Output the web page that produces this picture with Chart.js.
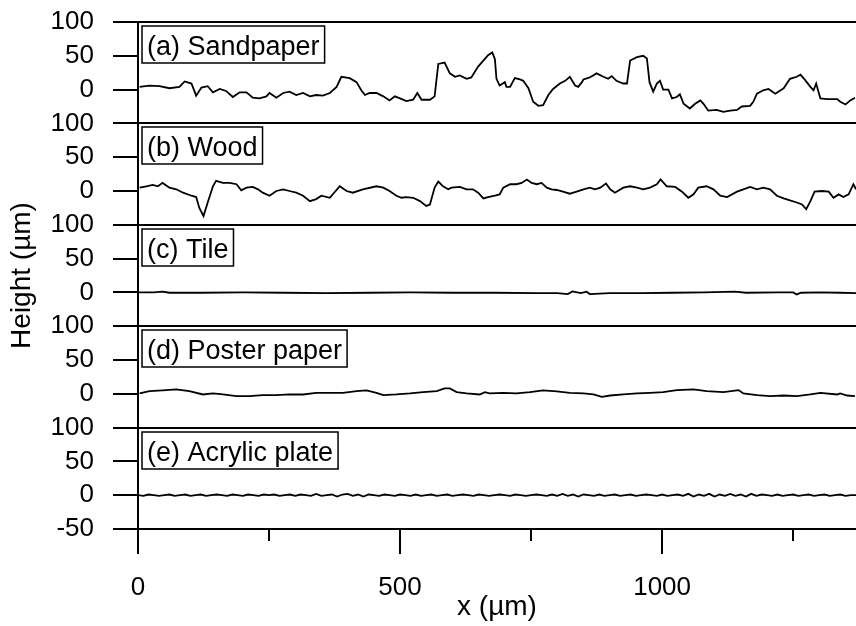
<!DOCTYPE html>
<html>
<head>
<meta charset="utf-8">
<script src="https://cdn.jsdelivr.net/npm/chart.js@4"></script>
<style>
  html, body { margin: 0; padding: 0; background: #fff; }
</style>
</head>
<body>
<canvas id="profileChart" width="856" height="626"></canvas>
<script>
// Surface height profiles (x and height in µm)
const sandX = [3, 22, 41, 60, 79, 89, 102, 111, 121, 133, 143, 156, 168, 181, 194, 207, 219, 232, 245, 251,
  264, 277, 289, 302, 315, 328, 340, 353, 366, 379, 388, 404, 417, 426, 433, 442, 455, 468, 480, 490,
  500, 512, 525, 533, 541, 557, 566, 573, 585, 595, 605, 614, 627, 636, 649, 668, 676, 681, 684, 690,
  700, 703, 710, 719, 729, 735, 745, 754, 764, 773, 783, 792, 805, 815, 824, 834, 840, 847, 850, 862,
  875, 888, 897, 904, 913, 926, 933, 939, 952, 964, 971, 976, 983, 990, 996, 1002, 1012, 1019, 1028, 1034,
  1041, 1053, 1063, 1073, 1079, 1088, 1104, 1117, 1130, 1143, 1152, 1168, 1174, 1181, 1193, 1203, 1216, 1232, 1244, 1257,
  1264, 1273, 1283, 1289, 1294, 1302, 1315, 1334, 1340, 1350, 1359, 1368];
const sandH = [4, 6, 5, 2, 4, 12, 9, -9, 3, 5, -4, 1, -2, -11, -4, -4, -12, -13, -10, -5,
  -12, -5, -3, -8, -5, -10, -8, -9, -5, 4, 19, 17, 11, -1, -8, -5, -5, -10, -16, -10,
  -13, -17, -15, -5, -15, -15, -10, 38, 40, 24, 19, 21, 16, 18, 34, 51, 55, 45, 16, 6,
  11, 4, 4, 17, 15, 13, 2, -18, -24, -23, -8, 1, 9, 13, 19, 6, 4, 11, 15, 18,
  24, 19, 16, 20, 13, 9, 9, 43, 48, 50, 46, 11, -3, 9, 13, 0, 0, -13, -11, -7,
  -21, -28, -21, -16, -21, -31, -30, -33, -31, -30, -25, -24, -18, -6, -1, 1, -6, 2, 16, 19,
  22, 14, 4, -1, 9, -13, -14, -14, -18, -22, -16, -12];

const woodX = [3, 16, 28, 38, 47, 60, 73, 86, 102, 111, 117, 125, 133, 143, 149, 162, 175, 188, 197, 207,
  219, 229, 238, 251, 264, 277, 289, 302, 315, 328, 340, 350, 366, 385, 398, 410, 429, 455, 468, 480,
  493, 503, 512, 525, 538, 550, 557, 566, 573, 582, 592, 598, 614, 627, 639, 649, 659, 668, 681, 690,
  697, 710, 722, 732, 742, 751, 761, 770, 780, 789, 799, 811, 824, 837, 850, 862, 872, 882, 893, 901,
  910, 926, 939, 952, 964, 977, 990, 997, 1009, 1025, 1038, 1050, 1060, 1069, 1085, 1098, 1111, 1124, 1143, 1155,
  1168, 1181, 1193, 1206, 1219, 1232, 1244, 1257, 1267, 1275, 1283, 1291, 1305, 1318, 1327, 1337, 1346, 1356, 1365, 1370];
const woodH = [5, 7, 9, 7, 12, 5, 2.5, -2.5, -7, -9, -25, -37, -17, 7, 15, 12, 12, 10, 1, 5,
  6, 2.5, -2.5, -7, 0, 2.5, 0, -2.5, -7, -15, -12, -7, -10, 7, 0, -2.5, 2.5, 7, 5, 0,
  -7, -10, -9, -10, -15, -22, -20, 5, 14, 7, 2.5, 5, 6, 2.5, 2.5, -2.5, -11, -9, -7, -5,
  5, 10, 10, 12, 17, 12, 10, 12, 5, 2.5, 1.5, -1, -4, -1, 2.5, 5, 2.5, 5, 11, 2.5,
  -2.5, 5, 7, 5, 2.5, 5, 10, 17, 7, 6, -1, -10, -5, 5, 7, 2.5, -7, -9, -1, 2.5,
  6, 2.5, 5, 2.5, -7, -11, -14, -17, -20, -27, -15, -1, 0, -1, -10, -5, -9, -5, 10, 2.5];

const tileX = [0, 30, 47, 60, 120, 200, 280, 360, 440, 520, 600, 680, 760, 800, 820, 829, 845, 856, 862, 900,
  960, 1020, 1080, 1139, 1160, 1220, 1250, 1257, 1265, 1300, 1340, 1370];
const tileH = [0, 0, 1, -0.5, -0.5, 0, -0.5, -1, -0.5, 0, -0.5, -0.5, -1, -1, -2.5, 1.5, -1, 1, -2.5, -1,
  -1, -0.5, 0, 1, -0.5, 0, 0, -3, -0.5, 0, -0.5, -1];

const posterX = [3, 22, 47, 73, 98, 124, 143, 162, 188, 213, 238, 264, 289, 315, 340, 366, 391, 417, 436, 455,
  468, 493, 519, 544, 570, 585, 595, 608, 627, 652, 662, 671, 697, 722, 748, 773, 799, 824, 850, 869,
  885, 901, 926, 952, 977, 1002, 1028, 1060, 1085, 1117, 1146, 1155, 1181, 1206, 1232, 1257, 1283, 1302, 1334, 1340,
  1353, 1368];
const posterH = [0.5, 4, 5, 6.4, 4, -1, 0.5, -1, -3.5, -3.5, -2, -2, -1, -1, 1.5, 1.5, 1.5, 4, 5, 1.5,
  -2, -1, 0.5, 2.5, 4, 8, 8, 2.5, 0.5, -1, 2.5, 0.5, 1.5, 0.5, 2.5, 5, 3.5, 1.5, 0.5, -1,
  -4.5, -2.5, -1, 0.5, 1.5, 2.5, 5.5, 6.4, 4, 2.5, 5.5, 0.5, -2, -3.5, -2.5, -3.5, -1, 1.5, -1, 0.5,
  -2.5, -3.5];

const acrylicX = [0, 10, 20, 30, 40, 50, 60, 70, 80, 90, 100, 110, 120, 130, 140, 150, 160, 170, 180, 190,
  200, 210, 220, 230, 240, 250, 260, 270, 280, 290, 300, 310, 320, 330, 340, 350, 360, 370, 380, 390,
  400, 410, 420, 430, 440, 450, 460, 470, 480, 490, 500, 510, 520, 530, 540, 550, 560, 570, 580, 590,
  600, 610, 620, 630, 640, 650, 660, 670, 680, 690, 700, 710, 720, 730, 740, 750, 760, 770, 780, 790,
  800, 810, 820, 830, 840, 850, 860, 870, 880, 890, 900, 910, 920, 930, 940, 950, 960, 970, 980, 990,
  1000, 1010, 1020, 1030, 1040, 1050, 1060, 1070, 1080, 1090, 1100, 1110, 1120, 1130, 1140, 1150, 1160, 1170, 1180, 1190,
  1200, 1210, 1220, 1230, 1240, 1250, 1260, 1270, 1280, 1290, 1300, 1310, 1320, 1330, 1340, 1350, 1360, 1370];
const acrylicH = [0, -1, 1, 0, -1, 0, 1, -1, 0, 1, -1, 0, 1, -1, 0, 1, 0, -1, 1, 0,
  -1, 1, 0, -1, 1, 0, 1, -1, 0, 1, -1, 1, 0, -1, 2, -1, 0, 1, -2, 1,
  2, -1, 1, -2, 1, 0, -1, 1, 0, -1, 1, 0, -1, 1, -1, 0, 1, -1, 0, 1,
  -1, 0, 1, 0, -1, 1, 0, -1, 0, 1, 0, -1, 1, 0, -1, 0, 1, 0, -1, 1,
  -1, 2, -1, 1, -2, 1, 0, -1, 1, -1, 0, 1, -1, 0, 1, -1, 0, 1, 0, -1,
  1, -1, 0, 1, -1, 2, -2, 1, -1, 2, -2, 1, -1, 2, -1, 1, -2, 2, -1, 1,
  0, -1, 1, -1, 0, 1, -1, 0, 1, -1, 0, 1, -1, 0, 1, -1, 0, 0];

const panelNames = ['(a) Sandpaper', '(b) Wood', '(c) Tile', '(d) Poster paper', '(e) Acrylic plate'];
const panelX = [sandX, woodX, tileX, posterX, acrylicX];
const panelH = [sandH, woodH, tileH, posterH, acrylicH];
const panelOffset = [600, 450, 300, 150, 0];   // each panel spans -50..100 on a shared axis
const panelTops = [700, 550, 400, 250, 100];

const yTicks = [-50, 0, 50, 100, 150, 200, 250, 300, 350, 400, 450, 500, 550, 600, 650, 700];
const xMajorTicks = [0, 500, 1000];
const xMinorTicks = [250, 750, 1250];

const FONT = '"Liberation Sans", Arial, Helvetica, sans-serif';

const datasets = panelNames.map((name, i) => ({
  label: name,
  data: panelX[i].map((x, k) => ({ x: x, y: panelH[i][k] + panelOffset[i] })),
  borderColor: '#000',
  borderWidth: 1.8,
  pointRadius: 0,
  tension: 0,
  fill: false
}));

// panel captions in boxed frames
const panelLabels = {
  id: 'panelLabels',
  afterDraw(chart) {
    const { ctx, chartArea, scales } = chart;
    ctx.save();
    ctx.font = '27px ' + FONT;
    ctx.textBaseline = 'alphabetic';
    panelNames.forEach((name, i) => {
      const top = Math.round(scales.y.getPixelForValue(panelTops[i])) + 4;
      const left = chartArea.left + 4;
      const w = ctx.measureText(name).width + 10;
      ctx.fillStyle = '#fff';
      ctx.fillRect(left, top, w, 37);
      ctx.strokeStyle = '#000';
      ctx.lineWidth = 1.5;
      ctx.strokeRect(left, top, w, 37);
      ctx.fillStyle = '#000';
      ctx.fillText(name, left + 5, top + 29);
    });
    ctx.restore();
  }
};

// short minor ticks under the x axis
const minorTicks = {
  id: 'minorTicks',
  afterDraw(chart) {
    const { ctx, chartArea, scales } = chart;
    ctx.save();
    ctx.strokeStyle = '#000';
    ctx.lineWidth = 2;
    xMinorTicks.forEach(v => {
      const px = Math.round(scales.x.getPixelForValue(v));
      ctx.beginPath();
      ctx.moveTo(px, chartArea.bottom);
      ctx.lineTo(px, chartArea.bottom + 12);
      ctx.stroke();
    });
    ctx.restore();
  }
};

new Chart(document.getElementById('profileChart').getContext('2d'), {
  type: 'line',
  data: { datasets: datasets },
  options: {
    responsive: false,
    animation: false,
    devicePixelRatio: 1,
    layout: { padding: { top: 22, right: 0, left: 0, bottom: 0 } },
    plugins: {
      legend: { display: false },
      tooltip: { enabled: false }
    },
    scales: {
      x: {
        type: 'linear',
        min: 0,
        max: 1370,
        afterBuildTicks: s => { s.ticks = xMajorTicks.map(v => ({ value: v })); },
        afterFit: s => { s.height = 97; s.paddingLeft = 0; s.paddingRight = 0; },
        border: { display: true, color: '#000', width: 2 },
        grid: { drawOnChartArea: false, drawTicks: true, tickLength: 25, color: '#000', lineWidth: 2 },
        ticks: {
          color: '#000',
          padding: 18,
          maxRotation: 0,
          font: { family: FONT, size: 26 },
          callback: v => String(v)
        },
        title: {
          display: true,
          text: 'x (µm)',
          color: '#000',
          font: { family: FONT, size: 28 },
          padding: { top: 0, bottom: 2 }
        }
      },
      y: {
        type: 'linear',
        min: -50,
        max: 700,
        afterBuildTicks: s => { s.ticks = yTicks.map(v => ({ value: v })); },
        // fixed axis width; drop the label overhang padding so the plot keeps its full height
        afterFit: s => { s.width = 138; s.paddingTop = 0; s.paddingBottom = 0; },
        border: { display: true, color: '#000', width: 2 },
        grid: {
          drawTicks: true,
          tickLength: 25,
          lineWidth: 2,
          tickColor: '#000',
          color: c => (panelTops.includes(c.tick.value) || c.tick.value === -50) ? '#000' : 'rgba(0,0,0,0)'
        },
        ticks: {
          color: '#000',
          padding: 19,
          autoSkip: false,
          font: { family: FONT, size: 26 },
          callback: v => v === -50 ? '-50' : String(v - 150 * Math.ceil((v - 100) / 150))
        },
        title: {
          display: true,
          text: 'Height (µm)',
          color: '#000',
          font: { family: FONT, size: 28 },
          padding: { top: 5, bottom: 0 }
        }
      }
    }
  },
  plugins: [panelLabels, minorTicks]
});
</script>
</body>
</html>
